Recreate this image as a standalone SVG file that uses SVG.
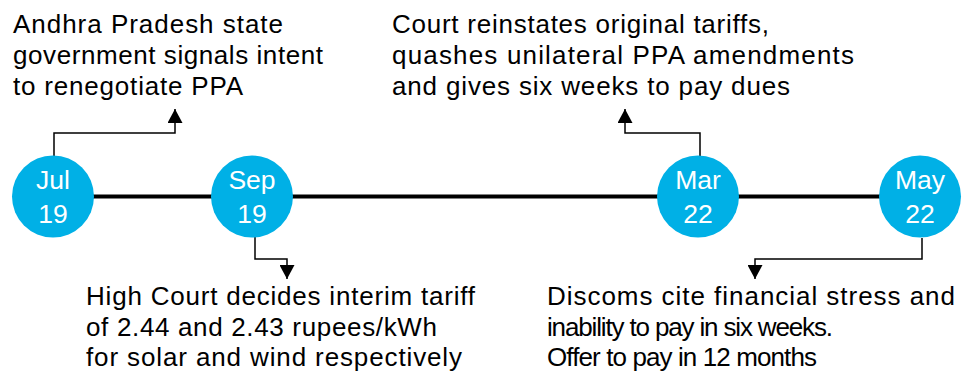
<svg xmlns="http://www.w3.org/2000/svg" width="962" height="372" viewBox="0 0 962 372">
<style>
.lbl{font-family:"Liberation Sans",Arial,sans-serif;font-size:26px;fill:#000}
.dt{font-family:"Liberation Sans",Arial,sans-serif;font-size:26.5px;fill:#fff;text-anchor:middle}
.node circle{fill:#00B0E6}
.conn{fill:none;stroke:#000;stroke-width:1.5}
</style>
<defs>
<marker id="ah" markerUnits="userSpaceOnUse" markerWidth="15" markerHeight="15" viewBox="0 0 14 15" refX="14" refY="7.5" orient="auto">
<path d="M0,0 L14,7.5 L0,15 z" fill="#000"/>
</marker>
</defs>
<rect width="962" height="372" fill="#fff"/>
<g id="connectors">
<line x1="53" y1="196.5" x2="920" y2="196.5" stroke="#000" stroke-width="4"/>
<path class="conn" d="M54 156 V133 H175 V109" marker-end="url(#ah)"/>
<path class="conn" d="M255 237 V259 H287 V279" marker-end="url(#ah)"/>
<path class="conn" d="M700 157 V133 H625 V109" marker-end="url(#ah)"/>
<path class="conn" d="M922 238 V259 H755 V279" marker-end="url(#ah)"/>
</g>
<g id="n-jul" class="node">
<circle cx="53" cy="196.5" r="41"/>
<text class="dt" x="53" y="189">Jul</text>
<text class="dt" x="53" y="223">19</text>
</g>
<g id="n-sep" class="node">
<circle cx="252" cy="196.5" r="41"/>
<text class="dt" x="252" y="189">Sep</text>
<text class="dt" x="252" y="223">19</text>
</g>
<g id="n-mar" class="node">
<circle cx="698" cy="196.5" r="41"/>
<text class="dt" x="698" y="189">Mar</text>
<text class="dt" x="698" y="223">22</text>
</g>
<g id="n-may" class="node">
<circle cx="920" cy="196.5" r="41"/>
<text class="dt" x="920" y="189">May</text>
<text class="dt" x="920" y="223">22</text>
</g>
<g id="t-jul">
<text class="lbl" x="13" y="32.5" textLength="270" lengthAdjust="spacing">Andhra Pradesh state</text>
<text class="lbl" x="13" y="63.5" textLength="310" lengthAdjust="spacing">government signals intent</text>
<text class="lbl" x="13" y="94.5" textLength="230" lengthAdjust="spacing">to renegotiate PPA</text>
</g>
<g id="t-mar">
<text class="lbl" x="392" y="32.5" textLength="377" lengthAdjust="spacing">Court reinstates original tariffs,</text>
<text class="lbl" x="392" y="63.5" textLength="462" lengthAdjust="spacing">quashes unilateral PPA amendments</text>
<text class="lbl" x="392" y="94.5" textLength="398" lengthAdjust="spacing">and gives six weeks to pay dues</text>
</g>
<g id="t-sep">
<text class="lbl" x="86" y="304.5" textLength="389" lengthAdjust="spacing">High Court decides interim tariff</text>
<text class="lbl" x="86" y="335.5" textLength="351" lengthAdjust="spacing">of 2.44 and 2.43 rupees/kWh</text>
<text class="lbl" x="86" y="366" textLength="376" lengthAdjust="spacing">for solar and wind respectively</text>
</g>
<g id="t-may">
<text class="lbl" x="547" y="304.5" textLength="408" lengthAdjust="spacing">Discoms cite financial stress and</text>
<text class="lbl" x="547" y="335.5" textLength="286" lengthAdjust="spacing">inability to pay in six weeks.</text>
<text class="lbl" x="547" y="366" textLength="270" lengthAdjust="spacing">Offer to pay in 12 months</text>
</g>
</svg>
